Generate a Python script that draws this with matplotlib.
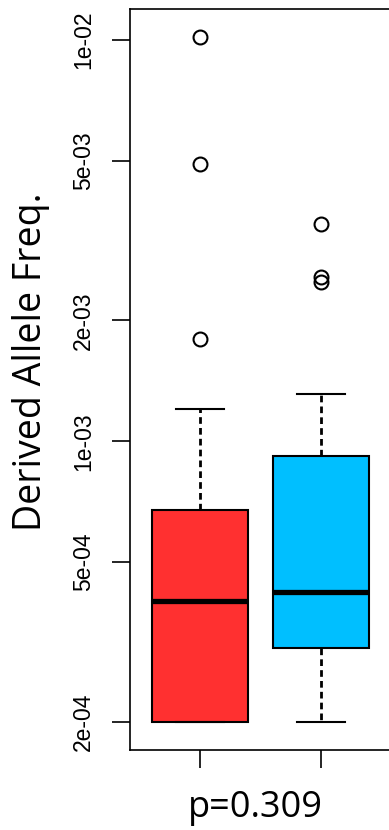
import numpy as np
import matplotlib
matplotlib.use("Agg")
import matplotlib.pyplot as plt

# box statistics (derived allele frequency)
groups = ["group1", "group2"]
box_colors = ["#FF3030", "#00BFFF"]
q1 = [2.0e-04, 3.06e-04]
medians = [4.0e-04, 4.2e-04]
q3 = [6.75e-04, 9.2e-04]
whis_lo = [2.0e-04, 2.0e-04]
whis_hi = [1.2e-03, 1.31e-03]
outliers = [[1.02e-02, 4.9e-03, 1.8e-03],
            [3.48e-03, 2.57e-03, 2.49e-03]]
ytick_vals = [2e-04, 5e-04, 1e-03, 2e-03, 5e-03, 1e-02]
ytick_labels = ["2e-04", "5e-04", "1e-03", "2e-03", "5e-03", "1e-02"]
p_text = "p=0.309"
ylab = "Derived Allele Freq."

stats = []
for i in range(len(groups)):
    stats.append({'med': medians[i], 'q1': q1[i], 'q3': q3[i],
                  'whislo': whis_lo[i], 'whishi': whis_hi[i],
                  'fliers': outliers[i], 'label': groups[i]})

fig = plt.figure(figsize=(3.89, 8.30), dpi=100)
ax = fig.add_axes([130 / 389, 80 / 830, 261 / 389, 741 / 830])

bp = ax.bxp(stats, positions=[1, 2], widths=0.8, patch_artist=True,
            boxprops=dict(edgecolor='black', linewidth=1.5),
            medianprops=dict(color='black', linewidth=3.8, solid_capstyle='butt'),
            whiskerprops=dict(color='black', linewidth=2, linestyle=(0, (2.4, 1.5))),
            capprops=dict(color='black', linewidth=1.5),
            capwidths=0.4,
            flierprops=dict(marker='o', markerfacecolor='none',
                            markeredgecolor='black', markersize=10,
                            markeredgewidth=1.5))
for patch, c in zip(bp['boxes'], box_colors):
    patch.set_facecolor(c)

ax.set_yscale('log')
ax.set_ylim(1.70e-04, 1.195e-02)
ax.set_xlim(0.42, 2.58)
ax.set_yticks(ytick_vals)
ax.set_yticklabels(ytick_labels, fontsize=16.5, family='Liberation Sans',
                   rotation=90, va='center')
ax.yaxis.set_minor_locator(matplotlib.ticker.NullLocator())
ax.set_xticks([1, 2])
ax.set_xticklabels(["", ""])
ax.tick_params(axis='both', length=13, width=1.2)
ax.tick_params(axis='y', pad=12)
for sp in ax.spines.values():
    sp.set_linewidth(1.2)

fig.text(31 / 389, 1 - 362 / 830, ylab, rotation=90, ha='center', va='center',
         fontsize=27, family='Open Sans')
fig.text(255 / 389, 1 - 808 / 830, p_text, ha='center', va='center',
         fontsize=26, family='Open Sans')

fig.savefig("out.png", dpi=100)
